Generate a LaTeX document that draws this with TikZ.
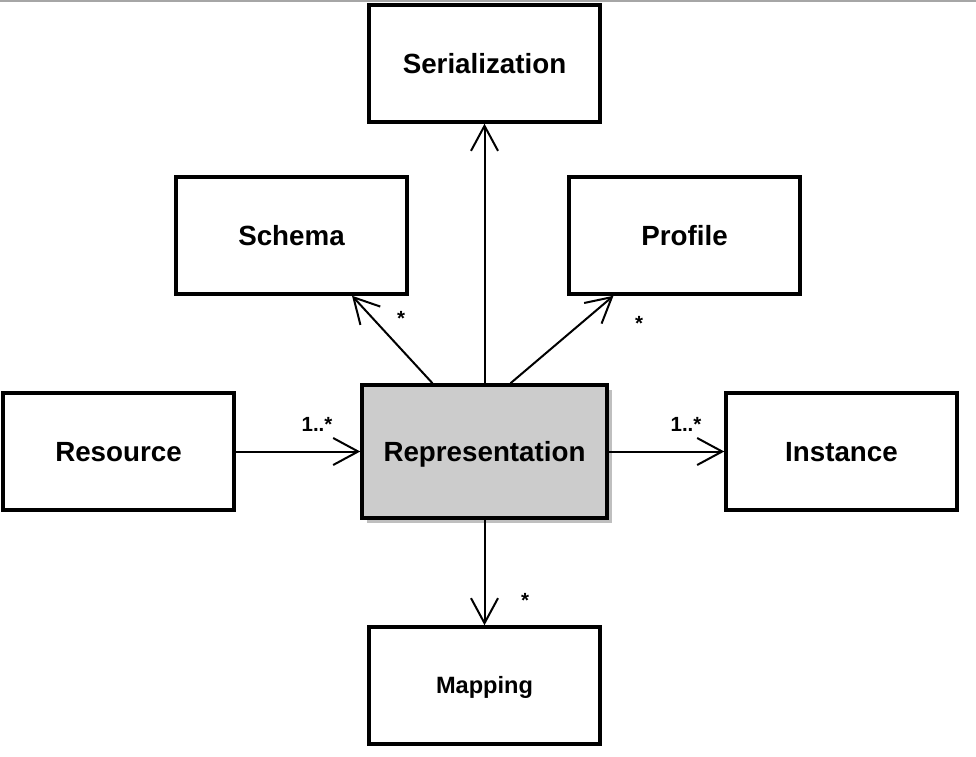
\documentclass[tikz,border=0pt]{standalone}
\usepackage{fontspec}
\setmainfont{Liberation Sans}
\usetikzlibrary{arrows.meta, calc, shadows}

\begin{document}
\begin{tikzpicture}[x=1pt, y=-1pt,
    clase/.style={draw, line width=3.5pt, fill=white, minimum width=231pt, minimum height=117pt, text height=19.9pt, text depth=0pt, font=\fontsize{27.75}{32}\selectfont\bfseries},
    central/.style={clase, fill=black!20, minimum width=245pt, minimum height=133pt, drop shadow={shadow xshift=5pt, shadow yshift=-5pt, fill=black!25, opacity=1}},
    asoc/.style={line width=2pt, -{Straight Barb[length=25pt, width=27pt, line width=2pt]}},
    mult/.style={font=\fontsize{20.5}{24}\selectfont\bfseries}]

\useasboundingbox (0,0) rectangle (976,756);

% borde superior
\draw[black!35, line width=1.5pt] (0,1) -- (976,1);

% CLASES
\node[clase] (ser) at (484.5,63.5) {Serialization};
\node[clase] (sch) at (291.5,235.5) {Schema};
\node[clase] (pro) at (684.5,235.5) {Profile};
\node[clase] (res) at (118.5,451.5) {Resource};
\node[central] (rep) at (484.5,451.5) {Representation};
\node[clase] (ins) at (841.5,451.5) {Instance};
\node[clase, text height=16.9pt, font=\fontsize{23.6}{28}\selectfont\bfseries] (map) at (484.5,685.5) {Mapping};

% Asociaciones
\draw[asoc] ($(rep.north)+(-52,0)$) -- ($(sch.south)+(60.5,0)$);
\draw[asoc] (rep.north) -- (ser.south);
\draw[asoc] ($(rep.north)+(26,0)$) -- ($(pro.south)+(-71,0)$);
\draw[asoc] (res.east) -- (rep.west);
\draw[asoc] (rep.east) -- (ins.west);
\draw[asoc] (rep.south) -- (map.north);

% Multiplicidades
\node[mult] (mSch) at (401,318) {*};
\node[mult] (mPro) at (639,323) {*};
\node[mult] (mMap) at (525,600) {*};
\node[mult] (mRes) at (317,424) {1..*};
\node[mult] (mIns) at (686,424) {1..*};

\end{tikzpicture}
\end{document}
